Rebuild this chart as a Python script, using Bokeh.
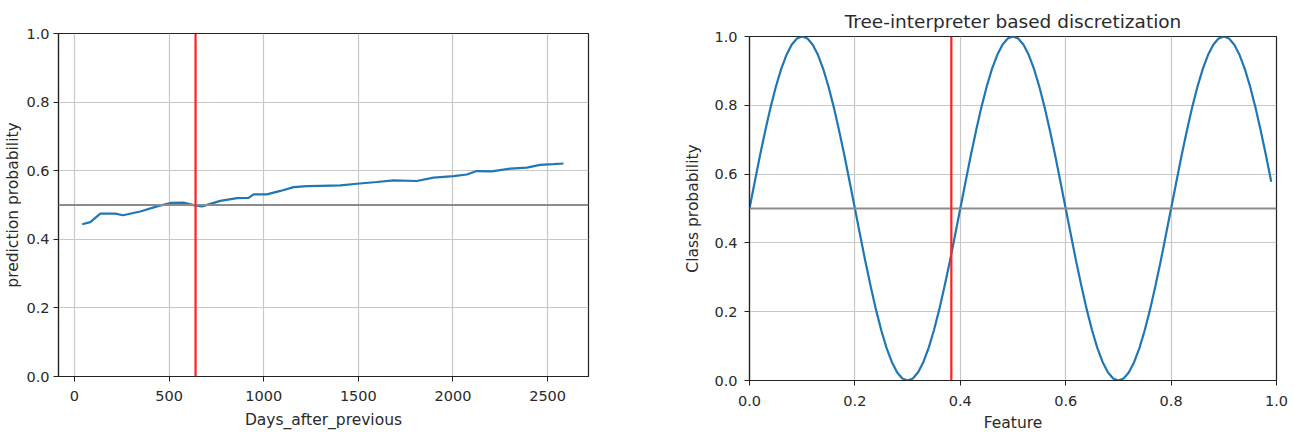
from bokeh.plotting import figure
from bokeh.layouts import row, column
from bokeh.models import Span, FixedTicker, Range1d
from bokeh.embed import file_html
from bokeh.resources import INLINE

# ---- left panel data ----
days = [41, 84, 137, 216, 257, 348, 437, 507, 577, 634, 674, 771, 859, 920, 947,
        1017, 1088, 1158, 1229, 1300, 1405, 1493, 1598, 1686, 1809, 1897, 2003,
        2073, 2126, 2205, 2302, 2390, 2460, 2531, 2584]
pred_prob = [0.444, 0.450, 0.475, 0.475, 0.470, 0.481, 0.496, 0.506, 0.507, 0.499,
             0.496, 0.512, 0.520, 0.521, 0.531, 0.531, 0.541, 0.552, 0.555, 0.556,
             0.557, 0.562, 0.567, 0.572, 0.570, 0.580, 0.584, 0.589, 0.599, 0.598,
             0.606, 0.609, 0.617, 0.619, 0.621]
left_split = 640
left_xticks = [0, 500, 1000, 1500, 2000, 2500]

# ---- right panel data ----
feature = [0.00, 0.01, 0.02, 0.03, 0.04, 0.05, 0.06, 0.07, 0.08, 0.09,
           0.10, 0.11, 0.12, 0.13, 0.14, 0.15, 0.16, 0.17, 0.18, 0.19,
           0.20, 0.21, 0.22, 0.23, 0.24, 0.25, 0.26, 0.27, 0.28, 0.29,
           0.30, 0.31, 0.32, 0.33, 0.34, 0.35, 0.36, 0.37, 0.38, 0.39,
           0.40, 0.41, 0.42, 0.43, 0.44, 0.45, 0.46, 0.47, 0.48, 0.49,
           0.50, 0.51, 0.52, 0.53, 0.54, 0.55, 0.56, 0.57, 0.58, 0.59,
           0.60, 0.61, 0.62, 0.63, 0.64, 0.65, 0.66, 0.67, 0.68, 0.69,
           0.70, 0.71, 0.72, 0.73, 0.74, 0.75, 0.76, 0.77, 0.78, 0.79,
           0.80, 0.81, 0.82, 0.83, 0.84, 0.85, 0.86, 0.87, 0.88, 0.89,
           0.90, 0.91, 0.92, 0.93, 0.94, 0.95, 0.96, 0.97, 0.98, 0.99]
class_prob = [0.5, 0.578, 0.655, 0.727, 0.794, 0.854, 0.905, 0.946, 0.976, 0.994,
              1.0, 0.994, 0.976, 0.946, 0.905, 0.854, 0.794, 0.727, 0.655, 0.578,
              0.5, 0.422, 0.345, 0.273, 0.206, 0.146, 0.095, 0.054, 0.024, 0.006,
              0.0, 0.006, 0.024, 0.054, 0.095, 0.146, 0.206, 0.273, 0.345, 0.422,
              0.5, 0.578, 0.655, 0.727, 0.794, 0.854, 0.905, 0.946, 0.976, 0.994,
              1.0, 0.994, 0.976, 0.946, 0.905, 0.854, 0.794, 0.727, 0.655, 0.578,
              0.5, 0.422, 0.345, 0.273, 0.206, 0.146, 0.095, 0.054, 0.024, 0.006,
              0.0, 0.006, 0.024, 0.054, 0.095, 0.146, 0.206, 0.273, 0.345, 0.422,
              0.5, 0.578, 0.655, 0.727, 0.794, 0.854, 0.905, 0.946, 0.976, 0.994,
              1.0, 0.994, 0.976, 0.946, 0.905, 0.854, 0.794, 0.727, 0.655, 0.578]
right_split = 0.383
right_xticks = [0.0, 0.2, 0.4, 0.6, 0.8, 1.0]

yticks = [0.0, 0.2, 0.4, 0.6, 0.8, 1.0]
threshold = 0.5

FONT = "DejaVu Sans"
TXT = "#2a2a2a"
BLUE = "#1f77b4"


def style(p, xticks, yticks_):
    p.background_fill_color = "white"
    p.border_fill_color = "white"
    p.outline_line_color = "#222222"
    p.outline_line_width = 1.2
    for ax in (p.xaxis[0], p.yaxis[0]):
        ax.axis_line_color = "#222222"
        ax.axis_line_width = 1.2
        ax.major_tick_out = 5
        ax.major_tick_in = 0
        ax.major_tick_line_color = "#222222"
        ax.minor_tick_line_color = None
        ax.major_label_text_font = FONT
        ax.major_label_text_font_size = "14.5px"
        ax.major_label_text_color = TXT
        ax.axis_label_text_font = FONT
        ax.axis_label_text_font_size = "15.5px"
        ax.axis_label_text_font_style = "normal"
        ax.axis_label_text_color = TXT
    p.xaxis[0].ticker = FixedTicker(ticks=xticks)
    p.yaxis[0].ticker = FixedTicker(ticks=yticks_)
    p.yaxis[0].major_label_overrides = {v: f"{v:.1f}" for v in yticks_}
    p.xgrid[0].ticker = FixedTicker(ticks=xticks)
    p.ygrid[0].ticker = FixedTicker(ticks=yticks_)
    for g in (p.xgrid[0], p.ygrid[0]):
        g.grid_line_color = "#c8c8c8"
        g.grid_line_width = 1.2


# ---- left figure ----
p1 = figure(width=660, height=434, output_backend="svg", toolbar_location=None,
            x_range=Range1d(-84, 2716), y_range=Range1d(0, 1),
            min_border_left=58, min_border_right=72, min_border_top=33,
            min_border_bottom=58)
style(p1, left_xticks, yticks)
p1.xaxis[0].major_label_standoff = 9
p1.xaxis[0].axis_label_standoff = 7
p1.yaxis[0].major_label_standoff = 4
p1.yaxis[0].axis_label_standoff = 1
p1.xaxis[0].axis_label = "Days_after_previous"
p1.yaxis[0].axis_label = "prediction probability"
p1.line(days, pred_prob, line_color=BLUE, line_width=2.2)
p1.add_layout(Span(location=threshold, dimension="width", line_color="#8c8c8c", line_width=2.2))
p1.add_layout(Span(location=left_split, dimension="height", line_color="#ff2020", line_width=2.2))

# ---- right figure ----
p2 = figure(width=634, height=434, output_backend="svg", toolbar_location=None,
            x_range=Range1d(0, 1), y_range=Range1d(0, 1),
            min_border_left=89, min_border_right=18, min_border_top=36,
            min_border_bottom=54)
style(p2, right_xticks, yticks)
p2.xaxis[0].major_label_standoff = 10
p2.xaxis[0].axis_label_standoff = 5
p2.yaxis[0].major_label_standoff = 7
p2.yaxis[0].axis_label_standoff = 9
p2.xaxis[0].major_label_overrides = {v: f"{v:.1f}" for v in right_xticks}
p2.xaxis[0].axis_label = "Feature"
p2.yaxis[0].axis_label = "Class probability"
p2.title.text = "Tree-interpreter based discretization"
p2.title.align = "center"
p2.title.text_font = FONT
p2.title.text_font_size = "18.5px"
p2.title.text_font_style = "normal"
p2.title.text_color = TXT
p2.line(feature, class_prob, line_color=BLUE, line_width=2.2)
p2.add_layout(Span(location=threshold, dimension="width", line_color="#8c8c8c", line_width=2.2))
p2.add_layout(Span(location=right_split, dimension="height", line_color="#ff2020", line_width=2.2))

layout = row(column(p1), column(p2))
open("out.html", "w").write(file_html(layout, INLINE))
